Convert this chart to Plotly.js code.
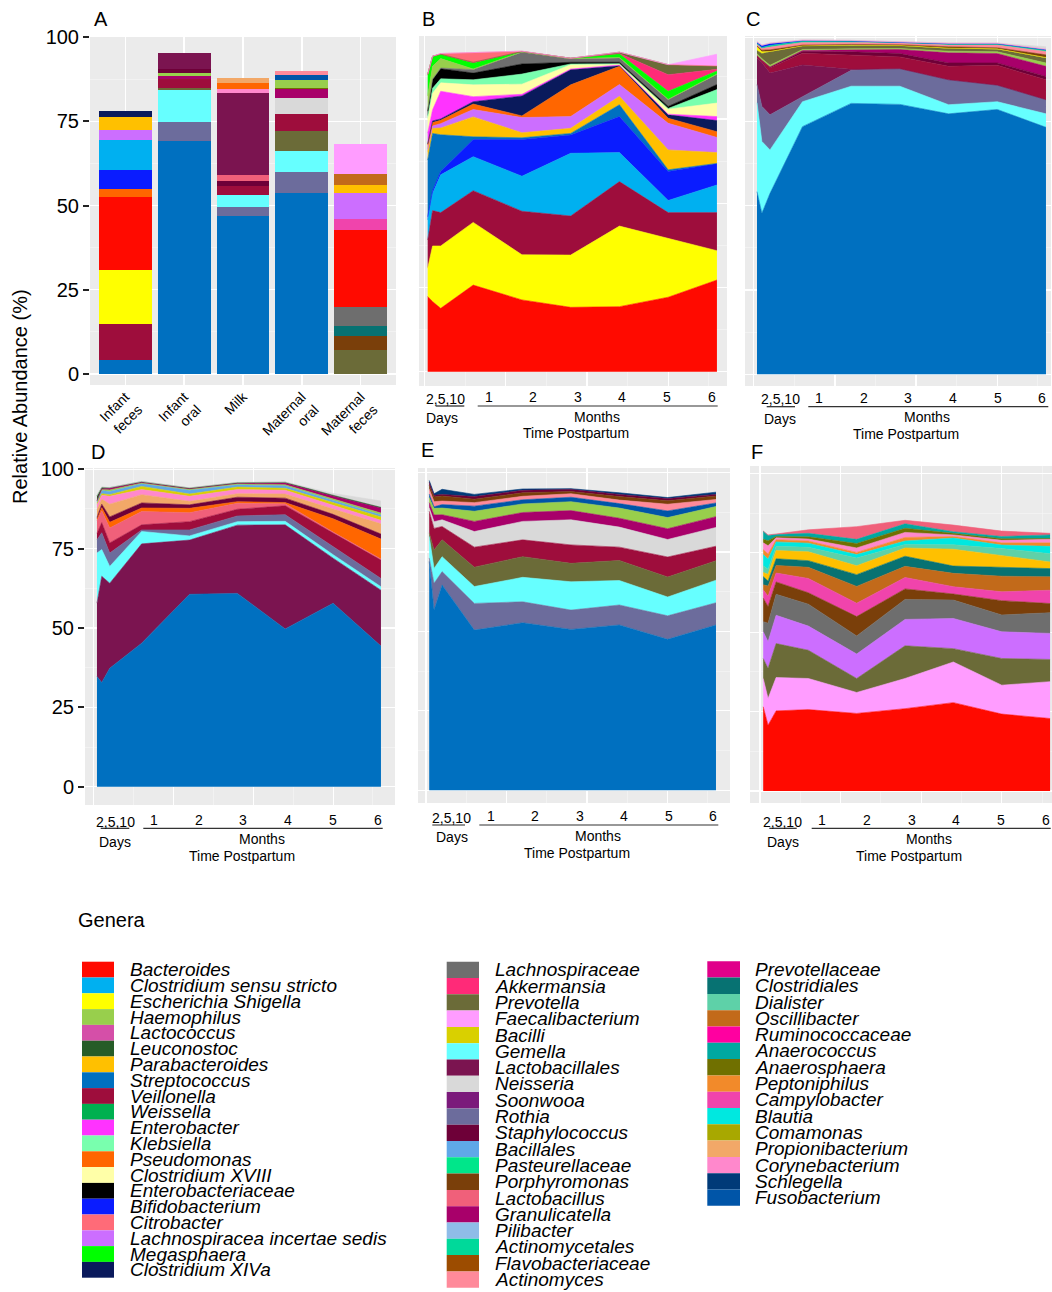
<!DOCTYPE html>
<html>
<head>
<meta charset="utf-8">
<script src="https://cdn.plot.ly/plotly-3.0.1.min.js"></script>
<style>
html,body{margin:0;padding:0;background:#fff;}
#chart{width:1052px;height:1292px;}
</style>
</head>
<body>
<div id="chart"></div>
<script>
// ================= DATA =================
// Legend (genera) – three columns
const legendNames1 = ["Bacteroides","Clostridium sensu stricto","Escherichia Shigella","Haemophilus","Lactococcus","Leuconostoc","Parabacteroides","Streptococcus","Veillonella","Weissella","Enterobacter","Klebsiella","Pseudomonas","Clostridium XVIII","Enterobacteriaceae","Bifidobacterium","Citrobacter","Lachnospiracea incertae sedis","Megasphaera","Clostridium XIVa"];
const legendColors1 = ["#FF0A00","#00B0F0","#FFFF00","#98CF4C","#D54FA8","#265C28","#FFC000","#0070C0","#9E0D3C","#00B050","#FF33FF","#79FFAE","#FF6600","#FFFFA8","#000000","#0A1CFF","#FF6B78","#CC6EFF","#00FF00","#0A1A5C"];
const legendNames2 = ["Lachnospiraceae","Akkermansia","Prevotella","Faecalibacterium","Bacilli","Gemella","Lactobacillales","Neisseria","Soonwooa","Rothia","Staphylococcus","Bacillales","Pasteurellaceae","Porphyromonas","Lactobacillus","Granulicatella","Pilibacter","Actinomycetales","Flavobacteriaceae","Actinomyces"];
const legendColors2 = ["#6E6E6E","#FF2A78","#6B6B38","#FF9CFF","#D9D000","#66FFFF","#7B1450","#D9D9D9","#7B1A7B","#6C6C9C","#6E0038","#5FA8E8","#00E68A","#7A3F0A","#F0607A","#A8006A","#8FBCE8","#00D99A","#9C4C00","#FF8A9A"];
const legendNames3 = ["Prevotellaceae","Clostridiales","Dialister","Oscillibacter","Ruminococcaceae","Anaerococcus","Anaerosphaera","Peptoniphilus","Campylobacter","Blautia","Comamonas","Propionibacterium","Corynebacterium","Schlegella","Fusobacterium"];
const legendColors3 = ["#E0008A","#077272","#5ED1A8","#C26A1A","#FF00A0","#00A8A0","#707000","#F28A2A","#F044AC","#00E8E0","#A8A800","#F2A868","#FF88CC","#003A78","#0055A8"];

// Panel A – mean relative abundance per sample type (bottom -> top)
const catsA = ["Infant feces","Infant oral","Milk","Maternal oral","Maternal feces"];
const catLabelsA = ["Infant<br>feces","Infant<br>oral","Milk","Maternal<br>oral","Maternal<br>feces"];
const infantFecesGenera = ["Streptococcus","Veillonella","Escherichia Shigella","Bacteroides","Pseudomonas","Bifidobacterium","Clostridium sensu stricto","Lachnospiracea incertae sedis","Parabacteroides","Clostridium XIVa"];
const infantFecesValues = [4.2,10.6,16.1,21.5,2.6,5.4,9.1,2.8,4.0,1.8];
const infantOralGenera = ["Streptococcus","Rothia","Gemella","Prevotella","Veillonella","Granulicatella","Haemophilus","Staphylococcus","Lactobacillales"];
const infantOralValues = [69.1,5.6,9.7,0.5,2.5,1.1,0.8,1.1,5.0];
const milkGenera = ["Streptococcus","Rothia","Gemella","Veillonella","Staphylococcus","Lactobacillus","Lactobacillales","Corynebacterium","Pseudomonas","Propionibacterium"];
const milkValues = [46.9,2.6,3.7,2.5,1.7,1.7,24.3,1.2,1.8,1.3];
const maternalOralGenera = ["Streptococcus","Rothia","Gemella","Prevotella","Veillonella","Neisseria","Granulicatella","Anaerosphaera","Haemophilus","Fusobacterium","Actinomyces"];
const maternalOralValues = [53.8,6.2,6.2,5.8,5.2,4.6,2.8,0.3,2.4,1.3,1.2];
const maternalFecesGenera = ["Prevotella","Porphyromonas","Clostridiales","Lachnospiraceae","Bacteroides","Campylobacter","Lachnospiracea incertae sedis","Parabacteroides","Oscillibacter","Faecalibacterium"];
const maternalFecesValues = [7.1,4.3,2.9,5.5,22.9,3.3,7.8,2.3,3.2,8.9];

// Time points (days postpartum): 2, 5, 10 days, then months 1-6
const timeDays = [2,5,10,30,60,90,120,150,180];
const daysLabel = "2,5,10";
const monthLabels = ["1","2","3","4","5","6"];

// Panel B – infant feces
const bGenera = ["Bacteroides","Escherichia Shigella","Veillonella","Clostridium sensu stricto","Bifidobacterium","Streptococcus","Parabacteroides","Lachnospiracea incertae sedis","Pseudomonas","Clostridium XIVa","Enterobacter","Clostridium XVIII","Klebsiella","Enterobacteriaceae","Lachnospiraceae","Haemophilus","Megasphaera","Akkermansia","Prevotella","Citrobacter","Faecalibacterium"];
const bValues = [
  [22.3,20.8,18.8,25.7,21.3,19.1,19.3,22.1,27.2],
  [8.4,16.5,18.5,18.6,13.4,15.5,23.9,17.5,8.7],
  [8.4,10.5,9.9,9.4,12.9,11.6,13.2,7.6,11.3],
  [5.9,5.1,11.2,10.1,10.4,18.6,8.6,3.6,8.2],
  [1.0,0.8,1.0,5.1,10.9,5.4,10.7,8.6,6.4],
  [16.8,17.0,10.9,0.8,0.5,0.5,3.5,0.5,0],
  [2.5,1.5,2.0,5.9,1.5,1.5,2.5,5.9,3.2],
  [0.7,0.7,1.3,2.2,4.5,3.5,3.5,7.9,4.5],
  [1.3,1.0,1.0,1.6,0.5,9.4,5.4,1.5,1.7],
  [0.3,0.5,0.4,0.7,5.9,4.5,0.2,1.0,3.3],
  [3.2,3.3,8.2,1.5,0.5,0.2,0.2,0.2,1.2],
  [4.0,4.9,2.5,3.5,3.0,1.3,0.2,1.5,4.0],
  [1.0,1.5,1.2,1.5,3.0,0.2,0.2,0.2,4.0],
  [1.5,2.5,3.0,2.0,3.0,0.5,0.4,0.6,1.5],
  [0.2,0.2,0.2,1.0,3.5,1.0,1.3,2.0,3.0],
  [4.3,3.8,2.8,0.2,0.1,0.1,0.1,0.1,0.1],
  [6.4,3.0,1.3,1.8,0.1,0.1,1.1,2.4,0.9],
  [0,0,0,0.2,0,0,0.1,4.9,0.5],
  [0,0,0,0,0,0,0.4,3.0,1.0],
  [0,0,0.2,2.8,0.1,0,0,0,0],
  [0,0,0,0,0,0,0,0,3.5]
];

// Panel C – infant oral
const cGenera = ["Streptococcus","Gemella","Rothia","Lactobacillales","Veillonella","Staphylococcus","Granulicatella","Haemophilus","Prevotella","Escherichia Shigella","Porphyromonas","Actinomyces","Actinomycetales","Bifidobacterium","Corynebacterium","Neisseria"];
const cValues = [
  [54.2,47.8,53.7,73.5,80.4,80.1,77.3,78.6,73.3],
  [26.4,21.3,12.9,7.4,5.1,5.4,2.7,2.3,4.0],
  [5.4,10.4,10.4,1.5,4.7,5.2,7.4,4.9,4.2],
  [7.9,13.0,12.4,9.4,0.3,0,0,0,0],
  [0.5,0.5,1.5,3.5,4.2,3.5,4.0,5.9,5.9],
  [0.2,0.2,0.3,0.5,1.0,1.0,1.0,0.7,1.0],
  [0,0,0,0.3,0.6,1.2,3.0,2.8,3.0],
  [0.5,0.5,0.5,0.3,0.3,0.3,0.5,0.5,1.0],
  [1.0,1.5,4.0,1.0,1.0,0.8,0.8,0.8,1.5],
  [1.0,0.5,0.1,0.1,0.1,0.1,0.1,0.1,0.1],
  [0.3,0.5,0.5,0.2,0.2,0.2,0.4,0.3,0.8],
  [0.5,0.5,0.8,0.8,0.6,0.5,0.5,0.8,1.0],
  [0.3,0.3,0.5,0.4,0.4,0.3,0.4,0.4,0.5],
  [0.3,0.5,0.5,0.1,0,0,0,0,0],
  [0.2,0.2,0.2,0.2,0.2,0.2,0.2,0.2,0.2],
  [0,0,0,0,0,0,0,0,0.7]
];

// Panel D – milk
const dGenera = ["Streptococcus","Lactobacillales","Gemella","Rothia","Veillonella","Lactobacillus","Pseudomonas","Staphylococcus","Propionibacterium","Corynebacterium","Bacilli","Bacillales","Haemophilus","Granulicatella","Leuconostoc","Neisseria"];
const dValues = [
  [34.7,32.8,37.3,45.2,60.6,60.9,49.7,57.8,44.3],
  [23.1,33.5,26.8,31.3,17.1,21.5,32.8,14.2,17.6],
  [15.8,8.4,5.3,3.9,1.3,1.1,1.1,1.1,1.1],
  [4.2,5.3,4.2,0.5,1.9,1.8,2.1,2.6,2.6],
  [2.0,3.2,3.2,1.6,2.6,2.1,2.8,4.2,5.8],
  [4.0,3.7,4.7,4.2,2.8,1.9,0.6,0.3,0.3],
  [0.5,1.0,1.8,1.1,1.4,0.5,0.4,4.2,6.3],
  [0.5,1.1,1.7,1.6,1.1,1.4,1.4,1.4,1.6],
  [2.5,1.6,4.0,2.6,1.1,1.1,1.3,1.8,3.2],
  [1.5,1.2,2.5,1.6,1.6,1.3,1.2,1.1,1.1],
  [0.5,0.5,0.5,1.0,0.7,0.8,0.6,0.8,1.1],
  [0.5,1.0,1.0,0.8,1.2,0.7,0.8,0.6,0.6],
  [0.3,0.3,0.5,0.3,0.3,0.3,0.3,0.5,0.6],
  [0,0.2,0.5,0.2,0.2,0.2,0.6,1.0,1.6],
  [1.5,0.5,0.2,0.2,0.2,0.2,0.2,0.2,0.2],
  [0.1,0.1,0.1,0.1,0.1,0.1,0.1,0.6,2.0]
];

// Panel E – maternal oral
const eGenera = ["Streptococcus","Rothia","Gemella","Prevotella","Veillonella","Neisseria","Granulicatella","Haemophilus","Fusobacterium","Actinomyces","Porphyromonas","Staphylococcus","Schlegella"];
const eValues = [
  [72.0,56.7,64.6,50.4,52.7,50.6,52.0,47.5,52.0],
  [1.1,8.4,4.2,8.4,6.6,6.1,6.3,7.4,7.0],
  [6.8,4.7,4.7,5.3,7.7,8.9,7.7,5.9,7.1],
  [1.1,5.8,5.3,6.1,6.5,5.8,6.3,6.3,6.1],
  [6.8,6.8,4.2,6.3,5.3,5.8,4.2,6.3,4.6],
  [1.1,2.1,2.1,4.9,5.8,7.9,6.3,5.5,5.9],
  [1.6,2.1,1.6,3.2,2.8,2.9,2.8,3.4,3.4],
  [1.6,2.1,2.1,3.2,2.7,2.8,3.2,3.5,3.2],
  [1.1,0.5,1.1,1.6,1.3,1.4,1.4,2.1,1.1],
  [1.6,1.6,1.1,1.1,1.1,1.1,1.1,2.1,1.1],
  [1.1,1.5,1.6,1.1,1.1,0.7,1.1,1.1,1.1],
  [1.1,0.5,0.5,0.8,0.8,0.7,0.7,0.7,0.5],
  [0.5,0.5,1.6,0.7,0.4,0.2,0.5,0.3,0.7]
];

// Panel F – maternal feces
const fGenera = ["Bacteroides","Faecalibacterium","Prevotella","Lachnospiracea incertae sedis","Lachnospiraceae","Porphyromonas","Campylobacter","Oscillibacter","Clostridiales","Parabacteroides","Dialister","Blautia","Peptoniphilus","Corynebacterium","Anaerosphaera","Anaerococcus","Lactobacillus"];
const fValues = [
  [26.5,20.7,25.2,25.6,24.4,25.9,27.8,24.2,22.8],
  [8.9,8.4,10.5,9.8,6.6,9.5,12.8,9.1,11.6],
  [6.3,9.5,10.7,8.9,4.4,10.3,4.2,8.4,7.0],
  [8.4,8.4,8.9,7.6,7.7,8.3,9.5,8.4,8.2],
  [3.2,5.8,6.6,6.9,5.7,6.3,5.8,5.3,6.5],
  [7.4,5.3,3.9,3.6,6.1,3.3,1.9,4.5,2.9],
  [2.6,3.2,2.8,4.5,4.2,3.6,2.3,2.8,4.2],
  [1.6,3.2,2.4,3.5,5.3,3.5,4.2,4.9,4.2],
  [2.6,1.6,2.1,2.1,3.7,3.2,2.3,2.9,2.6],
  [1.3,2.1,2.6,2.8,2.8,2.6,5.3,3.7,2.1],
  [2.1,1.6,1.3,1.4,2.4,1.1,1.4,2.1,2.6],
  [3.5,3.2,1.4,1.3,1.1,1.1,2.1,1.1,2.3],
  [1.6,1.6,0.7,0.7,0.7,1.1,0.5,0.7,1.1],
  [2.1,2.6,0.6,0.6,1.4,1.6,0.5,0.8,1.1],
  [1.1,1.6,0.4,0.7,1.4,1.3,0.5,0.5,0.3],
  [2.6,1.6,0.6,1.1,1.3,1.4,0.5,0.7,1.1],
  [0,0.2,0.2,1.1,4.0,1.1,2.1,1.7,0.5]
];

const yTickVals = [0,25,50,75,100];
const yTickText = ["0","25","50","75","100"];

// ================= LAYOUT HELPERS =================
const W = 1052, H = 1292;
const FONT = "Liberation Sans, Arial, Helvetica, sans-serif";
const fx = v => v / W;
const fy = v => 1 - v / H;

const colorOf = {};
[[legendNames1,legendColors1],[legendNames2,legendColors2],[legendNames3,legendColors3]].forEach(([n,c]) => n.forEach((g,i) => colorOf[g] = c[i]));

const traces = [];
const layout = {
  width: W, height: H,
  margin: {l:0, r:0, t:0, b:0},
  paper_bgcolor: "#FFFFFF",
  plot_bgcolor: "#EBEBEB",
  font: {family: FONT, color: "#000"},
  barmode: "stack",
  showlegend: false,
  annotations: [],
  shapes: []
};

// ---- Panel A (stacked bars)
const barSets = [
  [infantFecesGenera, infantFecesValues],
  [infantOralGenera, infantOralValues],
  [milkGenera, milkValues],
  [maternalOralGenera, maternalOralValues],
  [maternalFecesGenera, maternalFecesValues]
];
barSets.forEach(([gen, vals], ci) => {
  gen.forEach((g, j) => {
    traces.push({
      type: "bar", x: [catsA[ci]], y: [vals[j]], width: 0.9,
      marker: {color: colorOf[g], line: {width: 0}},
      name: g, xaxis: "x", yaxis: "y", hoverinfo: "name+y"
    });
  });
});

const gridY = {tick0: 0, dtick: 12.5, showgrid: true, gridcolor: "#F6F6F6", gridwidth: 0.6, ticks: ""};
const gridX = {tick0: 0, dtick: 25, showgrid: true, gridcolor: "#F6F6F6", gridwidth: 0.6, ticks: ""};

layout.xaxis = {
  domain: [fx(90), fx(396)], anchor: "y", type: "category",
  categoryorder: "array", categoryarray: catsA,
  tickmode: "array", tickvals: catsA, ticktext: catLabelsA,
  tickangle: -45, tickfont: {size: 14, family: FONT, color: "#000"},
  ticks: "", range: [-0.6, 4.6], showgrid: true, gridcolor: "#FFFFFF", gridwidth: 1.4,
  zeroline: false, showline: false, fixedrange: true
};
layout.yaxis = {
  domain: [fy(385), fy(37)], anchor: "x", range: [-3.26, 100],
  tickmode: "array", tickvals: yTickVals, ticktext: yTickText,
  ticks: "outside", ticklen: 6, tickwidth: 2, tickcolor: "#222",
  tickfont: {size: 20, family: FONT, color: "#000"},
  showgrid: true, gridcolor: "#FFFFFF", gridwidth: 1.4, minor: gridY,
  zeroline: false, showline: false, fixedrange: true
};

// ---- Area panels
const areaPanels = [
  {id:"B", n:2, genera:bGenera, values:bValues, dom:[419,727,36,386], xr:[-3.35,186.2], yr:[-4.24,99.6], ticks:false},
  {id:"C", n:3, genera:cGenera, values:cValues, dom:[745,1051,36,386], xr:[-5.4,183.1], yr:[-3.47,100.4], ticks:false},
  {id:"D", n:4, genera:dGenera, values:dValues, dom:[85,395,468,805], xr:[-5.5,188.8], yr:[-5.77,100.4], ticks:true},
  {id:"E", n:5, genera:eGenera, values:eValues, dom:[418,730,468,803], xr:[-4.96,188.7], yr:[-4.0,101.4], ticks:false},
  {id:"F", n:6, genera:fGenera, values:fValues, dom:[750,1052,466,803], xr:[-6.2,181.2], yr:[-3.8,102.3], ticks:false}
];
areaPanels.forEach(p => {
  p.genera.forEach((g, j) => {
    traces.push({
      type: "scatter", mode: "lines", x: timeDays, y: p.values[j],
      stackgroup: "grp" + p.id, fillcolor: colorOf[g],
      line: {width: 0.6, color: colorOf[g], shape: "linear"},
      name: g, xaxis: "x" + p.n, yaxis: "y" + p.n, hoverinfo: "name+y"
    });
  });
  layout["xaxis" + p.n] = {
    domain: [fx(p.dom[0]), fx(p.dom[1])], anchor: "y" + p.n, range: p.xr,
    tickmode: "linear", tick0: 0, dtick: 50, showticklabels: false, ticks: "",
    showgrid: true, gridcolor: "#FFFFFF", gridwidth: 1.2, minor: gridX,
    zeroline: false, showline: false, fixedrange: true
  };
  const ya = {
    domain: [fy(p.dom[3]), fy(p.dom[2])], anchor: "x" + p.n, range: p.yr,
    showgrid: true, gridcolor: "#FFFFFF", gridwidth: 1.2, minor: gridY,
    zeroline: false, showline: false, fixedrange: true
  };
  if (p.ticks) {
    Object.assign(ya, {tickmode: "array", tickvals: yTickVals, ticktext: yTickText,
      ticks: "outside", ticklen: 6, tickwidth: 2, tickcolor: "#222",
      tickfont: {size: 20, family: FONT, color: "#000"}});
  } else {
    Object.assign(ya, {tickmode: "linear", tick0: 0, dtick: 25, showticklabels: false, ticks: ""});
  }
  layout["yaxis" + p.n] = ya;
});

// ---- Text helpers
function addText(text, x, y, size, opts) {
  layout.annotations.push(Object.assign({
    text: text, x: fx(x), y: fy(y), xref: "paper", yref: "paper",
    showarrow: false, xanchor: "center", yanchor: "middle",
    font: {size: size, family: FONT, color: "#000"}
  }, opts || {}));
}
function addLine(x0, x1, y, color, w) {
  layout.shapes.push({type: "line", xref: "paper", yref: "paper",
    x0: fx(x0), x1: fx(x1), y0: fy(y), y1: fy(y), line: {color: color, width: w}});
}

// Panel letters
[["A",101,19],["B",428,19],["C",753,19],["D",98,452],["E",427,450],["F",757,452]].forEach(l => addText(l[0], l[1], l[2], 20));

// Y axis title
addText("Relative Abundance (%)", 20, 397, 20, {textangle: -90});

// Time axis decorations for each area panel (pixel positions)
const timeAxisPos = [
  {days:[445,399], under:[435.7,464.3,406], dayWord:[441.7,418], months:[489,533.3,578,622,667,711.7], monthY:396.7, line:[477.7,717.7,406], monthsWord:[597,416.7], tp:[575.7,433]},
  {days:[780,399.3], under:[766.7,795,406.7], dayWord:[780,419], months:[819.3,864,908.3,953.3,997.7,1041.7], monthY:397.7, line:[808.3,1048.3,406.7], monthsWord:[926.7,417.3], tp:[906,434.3]},
  {days:[115,821.7], under:[100.7,129.3,828.3], dayWord:[115,841.7], months:[154,199,243.3,288.3,333.3,377.7], monthY:820, line:[143.3,382.7,828.3], monthsWord:[261.7,839.3], tp:[241.7,856]},
  {days:[451.7,818.3], under:[432.3,465,825], dayWord:[451.7,837.3], months:[490.7,535,580,624.3,669,713.3], monthY:816, line:[479.3,718.3,825], monthsWord:[597.7,836], tp:[577.3,852.7]},
  {days:[782.7,821.7], under:[769.3,796.7,828.3], dayWord:[782.7,841.7], months:[822.3,866.7,911.7,956,1001,1046], monthY:820, line:[811.7,1050.7,828.3], monthsWord:[929.3,839.3], tp:[909.3,856]}
];
timeAxisPos.forEach(t => {
  addText(daysLabel, t.days[0], t.days[1], 14);
  addLine(t.under[0], t.under[1], t.under[2], "#222", 1.2);
  addText("Days", t.dayWord[0], t.dayWord[1], 14);
  monthLabels.forEach((m, i) => addText(m, t.months[i], t.monthY, 14));
  addLine(t.line[0], t.line[1], t.line[2], "#333", 1.2);
  addText("Months", t.monthsWord[0], t.monthsWord[1], 14);
  addText("Time Postpartum", t.tp[0], t.tp[1], 14);
});

// Legend
addText("Genera", 111.5, 920, 20);
const legendCols = [
  {names: legendNames1, colors: legendColors1, sx: 82, sw: 32, tx: 128, top: 961.7, rh: 15.8},
  {names: legendNames2, colors: legendColors2, sx: 446.7, sw: 32.3, tx: 492.7, top: 961.7, rh: 16.3},
  {names: legendNames3, colors: legendColors3, sx: 707.3, sw: 32.7, tx: 753.3, top: 961.3, rh: 16.3}
];
legendCols.forEach(col => {
  col.names.forEach((nm, i) => {
    const y0 = col.top + i * col.rh, y1 = y0 + col.rh;
    layout.shapes.push({type: "rect", xref: "paper", yref: "paper",
      x0: fx(col.sx), x1: fx(col.sx + col.sw), y0: fy(y1), y1: fy(y0),
      fillcolor: col.colors[i], line: {width: 0}});
    addText(nm, col.tx, (y0 + y1) / 2, 19, {xanchor: "left",
      font: {size: 19, family: FONT, color: "#000", style: "italic"}});
  });
});

Plotly.newPlot("chart", traces, layout, {staticPlot: true, displayModeBar: false});
</script>
</body>
</html>
